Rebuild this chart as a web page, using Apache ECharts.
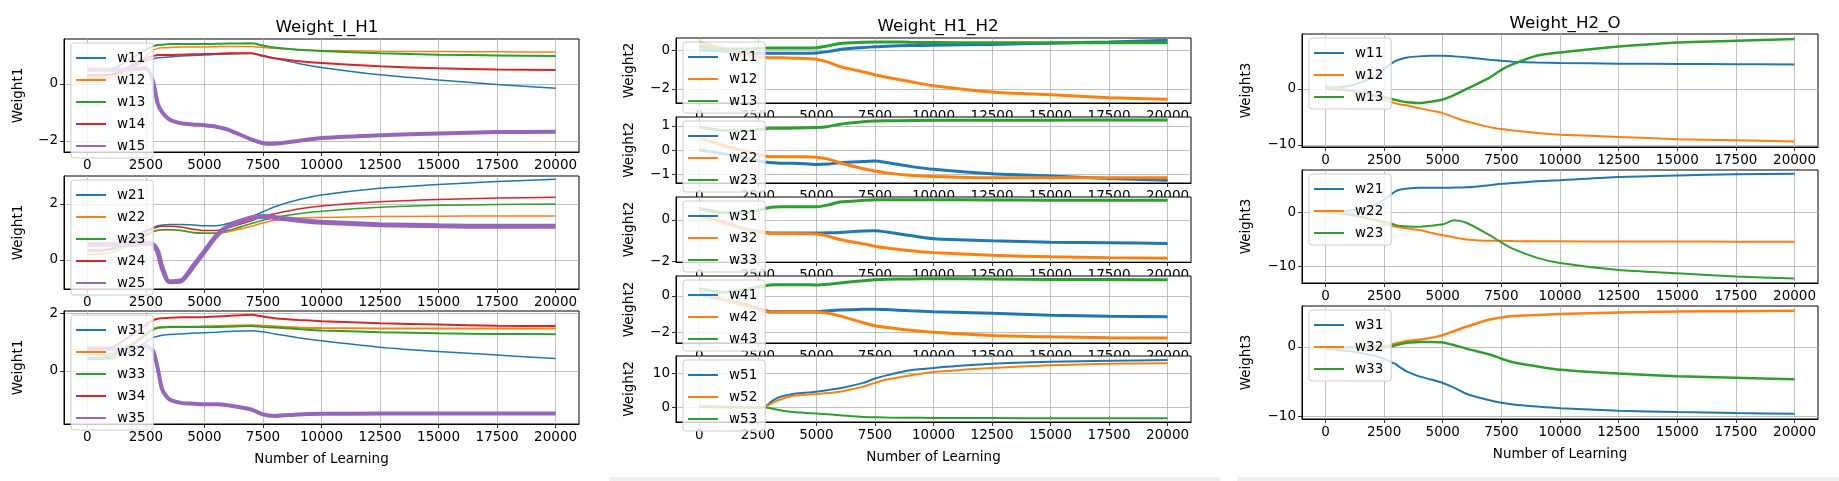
<!DOCTYPE html>
<html>
<head>
<meta charset="utf-8">
<title>Weight curves</title>
<script src="https://cdn.jsdelivr.net/npm/echarts@6/dist/echarts.min.js"></script>
<style>
    html, body { margin: 0; padding: 0; background: #fff; }
    #main { width: 1839px; height: 481px; }
</style>
</head>
<body>
<div id="main"></div>
<script>
// 横轴: 学习次数采样点
var steps = [0, 1000, 2000, 2500, 2800, 3000, 3200, 3500, 4000, 4500, 5000, 5500, 6000, 7000, 7500, 8000, 9000, 10000, 12500, 15000, 17500, 20000];
var xTicks = [0, 2500, 5000, 7500, 10000, 12500, 15000, 17500, 20000];

// Weight_I_H1
var ih1_w11 = [0.3, 0.32, 0.62, 0.82, 0.88, 0.92, 0.93, 0.95, 0.98, 1.0, 1.02, 1.04, 1.05, 1.08, 1.0, 0.9, 0.72, 0.58, 0.32, 0.14, -0.02, -0.15];
var ih1_w12 = [0.2, 0.22, 0.7, 1.0, 1.18, 1.25, 1.27, 1.28, 1.3, 1.3, 1.3, 1.31, 1.32, 1.32, 1.28, 1.25, 1.2, 1.18, 1.15, 1.14, 1.13, 1.12];
var ih1_w13 = [0.5, 0.52, 0.95, 1.2, 1.32, 1.37, 1.38, 1.4, 1.4, 1.4, 1.4, 1.41, 1.42, 1.43, 1.35, 1.28, 1.2, 1.16, 1.08, 1.03, 1.0, 0.98];
var ih1_w14 = [0.3, 0.32, 0.7, 0.9, 0.98, 1.02, 1.02, 1.02, 1.03, 1.04, 1.05, 1.06, 1.08, 1.08, 0.98, 0.9, 0.8, 0.74, 0.62, 0.55, 0.51, 0.49];
var ih1_w15 = [0.5, 0.5, 0.52, 0.55, 0.1, -0.68, -1.0, -1.25, -1.38, -1.42, -1.45, -1.5, -1.6, -1.95, -2.08, -2.1, -2.0, -1.9, -1.8, -1.74, -1.69, -1.68];

var ih1_w21 = [0.5, 0.55, 0.85, 1.05, 1.15, 1.22, 1.25, 1.27, 1.27, 1.25, 1.22, 1.22, 1.3, 1.55, 1.72, 1.9, 2.15, 2.32, 2.56, 2.7, 2.8, 2.88];
var ih1_w22 = [0.2, 0.25, 0.6, 0.85, 1.0, 1.05, 1.08, 1.08, 1.05, 0.98, 0.95, 0.95, 1.0, 1.2, 1.32, 1.42, 1.5, 1.52, 1.55, 1.56, 1.57, 1.57];
var ih1_w23 = [0.3, 0.35, 0.65, 0.9, 1.02, 1.06, 1.08, 1.08, 1.05, 0.98, 0.95, 0.96, 1.05, 1.3, 1.42, 1.52, 1.65, 1.74, 1.88, 1.95, 1.98, 2.0];
var ih1_w24 = [0.35, 0.4, 0.75, 1.0, 1.12, 1.18, 1.2, 1.2, 1.18, 1.1, 1.05, 1.05, 1.15, 1.4, 1.55, 1.65, 1.82, 1.93, 2.08, 2.16, 2.21, 2.24];
var ih1_w25 = [0.55, 0.55, 0.55, 0.6, 0.55, 0.3, -0.3, -0.78, -0.75, -0.25, 0.3, 0.85, 1.2, 1.5, 1.55, 1.52, 1.42, 1.35, 1.26, 1.22, 1.2, 1.2];

var ih1_w31 = [0.4, 0.42, 0.75, 1.0, 1.15, 1.2, 1.23, 1.26, 1.28, 1.3, 1.32, 1.34, 1.36, 1.39, 1.35, 1.28, 1.15, 1.04, 0.82, 0.67, 0.55, 0.43];
var ih1_w32 = [0.55, 0.58, 1.0, 1.3, 1.45, 1.5, 1.52, 1.53, 1.53, 1.53, 1.54, 1.55, 1.56, 1.58, 1.56, 1.54, 1.5, 1.48, 1.47, 1.47, 1.47, 1.47];
var ih1_w33 = [0.45, 0.5, 0.95, 1.25, 1.42, 1.48, 1.5, 1.52, 1.52, 1.52, 1.52, 1.52, 1.53, 1.55, 1.52, 1.5, 1.45, 1.4, 1.34, 1.3, 1.28, 1.27];
var ih1_w34 = [0.8, 0.82, 1.3, 1.6, 1.75, 1.8, 1.82, 1.84, 1.85, 1.85, 1.86, 1.88, 1.9, 1.94, 1.88, 1.82, 1.76, 1.72, 1.65, 1.6, 1.56, 1.55];
var ih1_w35 = [0.75, 0.75, 0.8, 0.85, 0.7, 0.1, -0.65, -0.98, -1.1, -1.13, -1.15, -1.15, -1.18, -1.33, -1.5, -1.55, -1.5, -1.48, -1.47, -1.47, -1.47, -1.47];

// Weight_H1_H2
var h1h2_w11 = [0.0, -0.05, -0.15, -0.17, -0.17, -0.17, -0.17, -0.17, -0.17, -0.17, -0.15, -0.08, 0.03, 0.13, 0.17, 0.2, 0.23, 0.25, 0.29, 0.35, 0.42, 0.5];
var h1h2_w12 = [0.4, 0.1, -0.2, -0.35, -0.38, -0.4, -0.4, -0.4, -0.42, -0.43, -0.47, -0.62, -0.85, -1.12, -1.27, -1.4, -1.62, -1.83, -2.15, -2.3, -2.45, -2.53];
var h1h2_w13 = [0.2, 0.05, 0.05, 0.08, 0.1, 0.1, 0.1, 0.1, 0.11, 0.11, 0.12, 0.22, 0.34, 0.4, 0.42, 0.42, 0.4, 0.39, 0.37, 0.37, 0.37, 0.37];

var h1h2_w21 = [0.0, -0.15, -0.35, -0.45, -0.5, -0.52, -0.53, -0.55, -0.55, -0.57, -0.6, -0.58, -0.53, -0.48, -0.46, -0.52, -0.68, -0.8, -0.99, -1.08, -1.18, -1.26];
var h1h2_w22 = [0.5, 0.2, -0.05, -0.2, -0.25, -0.28, -0.28, -0.28, -0.28, -0.28, -0.3, -0.38, -0.53, -0.78, -0.87, -0.95, -1.05, -1.1, -1.15, -1.15, -1.15, -1.15];
var h1h2_w23 = [0.95, 0.82, 0.8, 0.85, 0.88, 0.9, 0.9, 0.9, 0.91, 0.92, 0.93, 0.98, 1.07, 1.17, 1.2, 1.21, 1.22, 1.23, 1.24, 1.24, 1.25, 1.25];

var h1h2_w31 = [0.24, -0.1, -0.45, -0.55, -0.6, -0.63, -0.63, -0.63, -0.63, -0.63, -0.63, -0.62, -0.6, -0.53, -0.52, -0.58, -0.75, -0.9, -1.0, -1.07, -1.1, -1.13];
var h1h2_w32 = [0.2, -0.1, -0.45, -0.55, -0.62, -0.65, -0.65, -0.65, -0.65, -0.66, -0.68, -0.78, -0.94, -1.15, -1.26, -1.35, -1.48, -1.57, -1.7, -1.77, -1.81, -1.84];
var h1h2_w33 = [0.55, 0.35, 0.35, 0.45, 0.55, 0.6, 0.62, 0.63, 0.63, 0.63, 0.63, 0.72, 0.86, 0.94, 0.97, 0.97, 0.97, 0.97, 0.96, 0.95, 0.95, 0.95];

var h1h2_w41 = [0.1, -0.2, -0.5, -0.69, -0.8, -0.87, -0.88, -0.88, -0.88, -0.87, -0.87, -0.82, -0.78, -0.74, -0.73, -0.75, -0.82, -0.87, -0.96, -1.07, -1.12, -1.15];
var h1h2_w42 = [0.2, -0.2, -0.55, -0.75, -0.85, -0.9, -0.9, -0.9, -0.9, -0.9, -0.9, -0.96, -1.1, -1.48, -1.65, -1.75, -1.9, -2.0, -2.18, -2.26, -2.31, -2.33];
var h1h2_w43 = [0.4, 0.2, 0.35, 0.49, 0.55, 0.6, 0.62, 0.62, 0.62, 0.62, 0.6, 0.64, 0.71, 0.84, 0.89, 0.92, 0.94, 0.95, 0.93, 0.91, 0.9, 0.89];

var h1h2_w51 = [0.2, 0.1, 0.0, 0.0, 0.1, 1.2, 2.2, 3.1, 3.85, 4.2, 4.5, 5.0, 5.5, 7.1, 8.4, 9.3, 10.8, 11.5, 12.7, 13.3, 13.6, 13.8];
var h1h2_w52 = [0.2, 0.1, 0.0, 0.0, 0.1, 0.7, 1.5, 2.3, 3.3, 3.6, 3.85, 4.1, 4.5, 6.0, 7.1, 8.1, 9.3, 10.3, 11.5, 12.3, 12.7, 12.9];
var h1h2_w53 = [0.0, -0.1, -0.2, -0.2, -0.15, -0.3, -0.6, -1.0, -1.45, -1.7, -1.9, -2.15, -2.4, -2.9, -3.0, -3.1, -3.15, -3.2, -3.25, -3.3, -3.3, -3.3];

// Weight_H2_O
var h2o_w11 = [0.2, 0.5, 2.0, 3.5, 4.5, 5.0, 5.3, 5.6, 5.8, 5.9, 5.9, 5.8, 5.65, 5.2, 5.0, 4.85, 4.7, 4.62, 4.5, 4.45, 4.4, 4.35];
var h2o_w12 = [0.5, -0.3, -1.3, -2.0, -2.4, -2.6, -2.8, -3.0, -3.45, -3.9, -4.35, -5.1, -5.8, -6.85, -7.2, -7.45, -7.9, -8.2, -8.6, -9.0, -9.2, -9.4];
var h2o_w13 = [0.0, -0.3, -1.0, -1.5, -1.8, -2.0, -2.2, -2.4, -2.55, -2.3, -1.9, -1.07, -0.06, 2.0, 3.4, 4.4, 5.9, 6.5, 7.55, 8.3, 8.6, 8.9];

var h2o_w21 = [0.0, 0.3, 1.2, 2.3, 3.3, 3.9, 4.2, 4.4, 4.5, 4.5, 4.5, 4.55, 4.6, 5.0, 5.25, 5.4, 5.7, 5.9, 6.5, 6.8, 7.0, 7.1];
var h2o_w22 = [0.0, -0.5, -1.4, -2.1, -2.5, -2.7, -2.85, -3.0, -3.3, -3.8, -4.25, -4.7, -5.05, -5.3, -5.3, -5.35, -5.4, -5.4, -5.42, -5.44, -5.45, -5.45];
var h2o_w23 = [0.0, -0.4, -1.3, -1.75, -2.1, -2.4, -2.55, -2.65, -2.7, -2.5, -2.25, -1.5, -1.95, -4.25, -5.6, -6.8, -8.4, -9.4, -10.7, -11.3, -11.9, -12.25];

var h2o_w31 = [-0.25, -0.6, -1.2, -1.7, -2.2, -2.5, -3.0, -3.6, -4.25, -4.7, -5.2, -5.9, -6.75, -7.7, -8.05, -8.3, -8.6, -8.85, -9.2, -9.4, -9.55, -9.65];
var h2o_w32 = [0.0, 0.0, 0.1, 0.1, 0.3, 0.5, 0.65, 0.85, 1.05, 1.3, 1.7, 2.3, 2.9, 3.95, 4.25, 4.45, 4.6, 4.75, 4.95, 5.1, 5.15, 5.2];
var h2o_w33 = [-0.1, -0.1, -0.1, -0.1, 0.1, 0.25, 0.4, 0.6, 0.7, 0.72, 0.65, 0.25, -0.25, -1.1, -1.7, -2.2, -2.8, -3.3, -3.85, -4.25, -4.45, -4.65];

var titles = ['Weight_I_H1', 'Weight_H1_H2', 'Weight_H2_O'];
var yNames = ['Weight1', 'Weight2', 'Weight3'];

// matplotlib tab10
var colors = ['#1f77b4', '#ff7f0e', '#2ca02c', '#d62728', '#9467bd'];
var FONT = 'DejaVu Sans';

// 每个子图: 所在列, 位置, 纵轴范围和刻度, 线宽
var panels = [
    { col: 0, row: 0, rect: [64, 39, 515, 113], y: [-2.39, 1.58], ticks: [-2, 0],
      names: ['w11', 'w12', 'w13', 'w14', 'w15'], data: [ih1_w11, ih1_w12, ih1_w13, ih1_w14, ih1_w15], widths: [1.5, 1.5, 2, 2, 4] },
    { col: 0, row: 1, rect: [64, 176, 515, 113], y: [-1.04, 3.0], ticks: [0, 2],
      names: ['w21', 'w22', 'w23', 'w24', 'w25'], data: [ih1_w21, ih1_w22, ih1_w23, ih1_w24, ih1_w25], widths: [1.5, 1.5, 1.5, 1.5, 5] },
    { col: 0, row: 2, rect: [64, 311, 515, 113], y: [-1.83, 2.07], ticks: [0, 2], last: true,
      names: ['w31', 'w32', 'w33', 'w34', 'w35'], data: [ih1_w31, ih1_w32, ih1_w33, ih1_w34, ih1_w35], widths: [1.5, 2, 2, 2, 4] },

    { col: 1, row: 0, rect: [676, 38, 515, 65], y: [-2.72, 0.62], ticks: [-2, 0],
      names: ['w11', 'w12', 'w13'], data: [h1h2_w11, h1h2_w12, h1h2_w13], widths: [3, 3, 3] },
    { col: 1, row: 1, rect: [676, 117, 515, 66], y: [-1.37, 1.37], ticks: [-1, 0, 1],
      names: ['w21', 'w22', 'w23'], data: [h1h2_w21, h1h2_w22, h1h2_w23], widths: [3, 3, 3] },
    { col: 1, row: 2, rect: [676, 197, 515, 65], y: [-2.02, 1.1], ticks: [-2, 0],
      names: ['w31', 'w32', 'w33'], data: [h1h2_w31, h1h2_w32, h1h2_w33], widths: [3, 3, 3] },
    { col: 1, row: 3, rect: [676, 276, 515, 67], y: [-2.6, 1.1], ticks: [-2, 0],
      names: ['w41', 'w42', 'w43'], data: [h1h2_w41, h1h2_w42, h1h2_w43], widths: [3, 3, 3] },
    { col: 1, row: 4, rect: [676, 356, 515, 66], y: [-4.4, 15], ticks: [0, 10], last: true,
      names: ['w51', 'w52', 'w53'], data: [h1h2_w51, h1h2_w52, h1h2_w53], widths: [2, 2, 2] },

    { col: 2, row: 0, rect: [1302, 34, 516, 113], y: [-10.4, 9.8], ticks: [-10, 0],
      names: ['w11', 'w12', 'w13'], data: [h2o_w11, h2o_w12, h2o_w13], widths: [2, 2, 2.5] },
    { col: 2, row: 1, rect: [1302, 170, 516, 113], y: [-13.1, 7.8], ticks: [-10, 0],
      names: ['w21', 'w22', 'w23'], data: [h2o_w21, h2o_w22, h2o_w23], widths: [2, 2, 2] },
    { col: 2, row: 2, rect: [1302, 306, 516, 113], y: [-10.4, 5.9], ticks: [-10, 0], last: true,
      names: ['w31', 'w32', 'w33'], data: [h2o_w31, h2o_w32, h2o_w33], widths: [2, 2.5, 2.5] }
];

var colTitle = [{ x: 322, top: 13 }, { x: 933, top: 12 }, { x: 1560, top: 9 }];
var yNameGap = [39, 40, 49];

function fmt(v) {
    return v < 0 ? '\u2212' + Math.abs(v) : String(v);
}

var option = {
    animation: false,
    backgroundColor: '#fff',
    textStyle: { fontFamily: FONT },
    title: [],
    grid: [],
    xAxis: [],
    yAxis: [],
    legend: [],
    series: [],
    graphic: [
        // 底部的工具栏残影
        { type: 'rect', shape: { x: 609, y: 477, width: 611, height: 4 }, style: { fill: '#f0f0f0' }, silent: true },
        { type: 'rect', shape: { x: 1237, y: 477, width: 602, height: 4 }, style: { fill: '#f0f0f0' }, silent: true }
    ]
};

titles.forEach(function (t, c) {
    option.title.push({
        text: t, left: colTitle[c].x, top: colTitle[c].top, textAlign: 'center',
        textStyle: { fontFamily: FONT, fontSize: 16.7, fontWeight: 'normal', color: '#000', lineHeight: 20 }
    });
});

panels.forEach(function (p, i) {
    var r = p.rect;
    // 下一行的背景盖住上一行的刻度文字 (和原图一样)
    var zb = p.row * 2;
    option.grid.push({
        left: r[0], top: r[1], width: r[2], height: r[3],
        show: true, backgroundColor: '#fff', borderColor: '#000', borderWidth: 1, z: zb
    });
    option.xAxis.push({
        type: 'value', gridIndex: i, min: -1000, max: 21000, z: zb + 1,
        axisLine: { show: true, onZero: false, lineStyle: { color: '#000', width: 1 } },
        axisTick: { show: true, length: 4, customValues: xTicks, lineStyle: { color: '#000', width: 0.8 } },
        axisLabel: { customValues: xTicks, color: '#000', fontFamily: FONT, fontSize: 13.5, margin: 6, formatter: fmt },
        splitLine: { show: true, lineStyle: { color: '#b0b0b0', width: 0.8 } },
        name: p.last ? 'Number of Learning' : '',
        nameLocation: 'middle', nameGap: 28,
        nameTextStyle: { color: '#000', fontFamily: FONT, fontSize: 13.5 }
    });
    option.yAxis.push({
        type: 'value', gridIndex: i, min: p.y[0], max: p.y[1], z: zb + 1,
        axisLine: { show: true, onZero: false, lineStyle: { color: '#000', width: 1 } },
        axisTick: { show: true, length: 4, customValues: p.ticks, lineStyle: { color: '#000', width: 0.8 } },
        axisLabel: { customValues: p.ticks, color: '#000', fontFamily: FONT, fontSize: 13.5, margin: 6, formatter: fmt },
        splitLine: { show: true, lineStyle: { color: '#b0b0b0', width: 0.8 } },
        name: yNames[p.col], nameLocation: 'middle', nameGap: yNameGap[p.col],
        nameTextStyle: { color: '#000', fontFamily: FONT, fontSize: 13.5 }
    });
    option.legend.push({
        data: p.names, orient: 'vertical', left: r[0] + 7, top: r[1] + 4,
        icon: 'rect', itemWidth: 30, itemHeight: 2, itemGap: 6,
        padding: [7, 8, 4, 5], selectedMode: false,
        backgroundColor: 'rgba(255,255,255,0.8)', borderColor: '#cccccc', borderWidth: 1, borderRadius: 3,
        textStyle: { color: '#000', fontFamily: FONT, fontSize: 13.5, lineHeight: 16, padding: [0, 0, 0, 6] },
        z: 40
    });
    p.names.forEach(function (n, k) {
        var arr = p.data[k];
        option.series.push({
            type: 'line', name: n, xAxisIndex: i, yAxisIndex: i,
            data: steps.map(function (x, j) { return [x, arr[j]]; }),
            showSymbol: false, symbol: 'none', smooth: 0.25,
            lineStyle: { color: colors[k], width: p.widths[k] },
            itemStyle: { color: colors[k] },
            z: 20
        });
    });
});

var myChart = echarts.init(document.getElementById('main'));
myChart.setOption(option);
</script>
</body>
</html>
